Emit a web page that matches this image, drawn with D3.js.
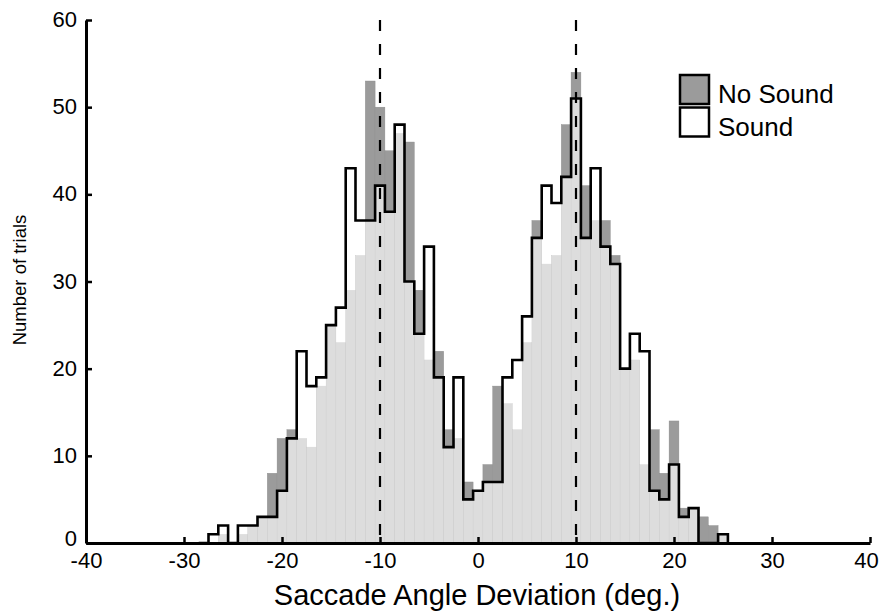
<!DOCTYPE html>
<html>
<head>
<meta charset="utf-8">
<script src="https://cdn.jsdelivr.net/npm/d3@7/dist/d3.min.js"></script>
<style>
  html, body { margin: 0; padding: 0; background: #ffffff; }
  svg { display: block; }
  text { font-family: "Liberation Sans", Arial, Helvetica, sans-serif; fill: #000; }
</style>
</head>
<body>
<svg id="chart" width="881" height="612"></svg>
<script>
// ---- data (1-degree bins, centred on integers) ----
const binCenters = d3.range(-28, 26); // -28 .. 25
const noSound = [0,0,1,0,1,2,3,8,12,13,12,11,18,25,23,29,33,53,50,45,47,46,29,21,22,13,12,7,6,9,18,16,13,23,37,32,33,48,54,41,37,37,33,20,21,9,13,8,14,4,4,3,2,1];
const sound   = [0,1,2,0,2,2,3,3,6,12,22,18,19,25,27,43,37,37,41,38,48,30,24,34,19,11,19,5,6,7,7,19,21,26,35,41,39,42,51,35,43,34,32,20,24,22,6,5,9,3,4,0,0,1];
const xTicks = [-40,-30,-20,-10,0,10,20,30,40];
const yTicks = [0,10,20,30,40,50,60];
const refLines = [-10, 10];
const legendLabels = ["No Sound", "Sound"];
const xLabel = "Saccade Angle Deviation (deg.)";
const yLabel = "Number of trials";

const svg = d3.select("#chart");
const x = d3.scaleLinear().domain([-40, 40]).range([86, 870]);
const y = d3.scaleLinear().domain([0, 60]).range([543, 20]);

const darkGray = "#9b9b9b";
const g = svg.append("g");

// No Sound bars
g.selectAll("rect.ns").data(binCenters).join("rect")
  .attr("class", "ns")
  .attr("x", (d) => x(d - 0.5))
  .attr("width", (d) => x(d + 0.5) - x(d - 0.5))
  .attr("y", (d, i) => y(noSound[i]))
  .attr("height", (d, i) => y(0) - y(noSound[i]))
  .attr("fill", darkGray)
  .attr("stroke", "#8a8a8a")
  .attr("stroke-width", 0.4);

// Sound bars (translucent white => light grey where overlapping)
g.selectAll("rect.s").data(binCenters).join("rect")
  .attr("class", "s")
  .attr("x", (d) => x(d - 0.5))
  .attr("width", (d) => x(d + 0.5) - x(d - 0.5))
  .attr("y", (d, i) => y(sound[i]))
  .attr("height", (d, i) => y(0) - y(sound[i]))
  .attr("fill", "#ffffff")
  .attr("fill-opacity", 0.66);

// Sound outline (step)
const pts = [[binCenters[0] - 0.5, 0]];
binCenters.forEach((c, i) => { pts.push([c - 0.5, sound[i]]); pts.push([c + 0.5, sound[i]]); });
pts.push([binCenters[binCenters.length - 1] + 0.5, 0]);
g.append("path")
  .attr("d", d3.line().x((p) => x(p[0])).y((p) => y(p[1]))(pts))
  .attr("fill", "none")
  .attr("stroke", "#000")
  .attr("stroke-width", 2.6)
  .attr("stroke-linejoin", "miter");

// dashed reference lines
g.selectAll("line.ref").data(refLines).join("line")
  .attr("x1", (d) => x(d)).attr("x2", (d) => x(d))
  .attr("y1", y(60)).attr("y2", y(0))
  .attr("stroke", "#000")
  .attr("stroke-width", 2.2)
  .attr("stroke-dasharray", "11,13");

// axes
const xAxis = d3.axisBottom(x).tickValues(xTicks).tickSizeInner(-6).tickSizeOuter(0).tickPadding(9)
  .tickFormat(d3.format("d"));
const yAxis = d3.axisLeft(y).tickValues(yTicks).tickSizeInner(-6).tickSizeOuter(0).tickPadding(9)
  .tickFormat(d3.format("d"));

const gx = svg.append("g").attr("transform", `translate(0,${y(0)})`).call(xAxis);
const gy = svg.append("g").attr("transform", `translate(${x(-40)},0)`).call(yAxis);
[gx, gy].forEach((ax) => {
  ax.select(".domain").attr("stroke", "#000").attr("stroke-width", 3);
  ax.selectAll(".tick line").attr("stroke", "#000").attr("stroke-width", 2.5);
  ax.selectAll(".tick text").attr("font-size", 22).attr("fill", "#000")
    .attr("font-family", "'Liberation Sans', Arial, Helvetica, sans-serif");
});
gx.selectAll(".tick text")
  .text((d) => (d < 0 ? "-" + Math.abs(d) : d))
  .attr("dx", (d) => (d === 40 ? -4 : 0));
gy.selectAll(".tick text").attr("dy", (d) => (d === 0 ? "0.1em" : "0.3em"));

// axis labels
svg.append("text").attr("x", 477).attr("y", 605).attr("text-anchor", "middle")
  .attr("font-size", 29).text(xLabel);
svg.append("text").attr("transform", "translate(26,280) rotate(-90)").attr("text-anchor", "middle")
  .attr("font-size", 18.5).text(yLabel);

// legend
const legend = svg.append("g").attr("transform", "translate(680,75)");
const legFill = [darkGray, "#ffffff"];
legendLabels.forEach((lab, i) => {
  legend.append("rect").attr("x", 0).attr("y", i * 32.5).attr("width", 29).attr("height", 29)
    .attr("fill", legFill[i]).attr("stroke", "#000").attr("stroke-width", 2.5);
  legend.append("text").attr("x", 38).attr("y", i * 32.5 + 28).attr("font-size", 26).text(lab);
});
</script>
</body>
</html>
